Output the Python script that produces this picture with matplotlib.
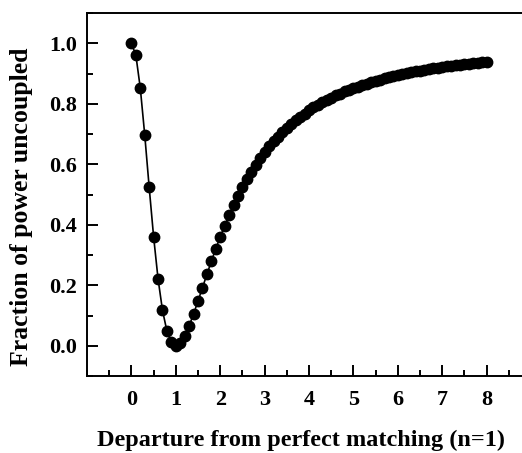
import matplotlib
matplotlib.use("Agg")
import matplotlib.pyplot as plt
from matplotlib.ticker import MultipleLocator

# departure from perfect matching (n=1)
n_values = [
    0.0, 0.1, 0.2, 0.3, 0.4, 0.5, 0.6, 0.7, 0.8, 0.9,
    1.0, 1.1, 1.2, 1.3, 1.4, 1.5, 1.6, 1.7, 1.8, 1.9,
    2.0, 2.1, 2.2, 2.3, 2.4, 2.5, 2.6, 2.7, 2.8, 2.9,
    3.0, 3.1, 3.2, 3.3, 3.4, 3.5, 3.6, 3.7, 3.8, 3.9,
    4.0, 4.1, 4.2, 4.3, 4.4, 4.5, 4.6, 4.7, 4.8, 4.9,
    5.0, 5.1, 5.2, 5.3, 5.4, 5.5, 5.6, 5.7, 5.8, 5.9,
    6.0, 6.1, 6.2, 6.3, 6.4, 6.5, 6.6, 6.7, 6.8, 6.9,
    7.0, 7.1, 7.2, 7.3, 7.4, 7.5, 7.6, 7.7, 7.8, 7.9,
    8.0,
]
# fraction of power uncoupled
uncoupled = [
    1.000, 0.961, 0.852, 0.697, 0.524, 0.360, 0.221, 0.117, 0.048, 0.011,
    0.000, 0.009, 0.033, 0.066, 0.105, 0.148, 0.192, 0.236, 0.279, 0.321,
    0.360, 0.397, 0.432, 0.465, 0.496, 0.524, 0.551, 0.576, 0.599, 0.620,
    0.640, 0.659, 0.676, 0.692, 0.707, 0.721, 0.734, 0.746, 0.758, 0.768,
    0.779, 0.788, 0.797, 0.805, 0.813, 0.821, 0.828, 0.834, 0.841, 0.846,
    0.852, 0.857, 0.862, 0.867, 0.872, 0.876, 0.880, 0.884, 0.888, 0.891,
    0.895, 0.898, 0.901, 0.904, 0.907, 0.910, 0.912, 0.915, 0.917, 0.919,
    0.922, 0.924, 0.926, 0.928, 0.930, 0.931, 0.933, 0.935, 0.936, 0.938,
    0.939,
]

plt.rcParams['font.family'] = ['Liberation Serif', 'DejaVu Serif']
plt.rcParams['font.weight'] = 'bold'

fig = plt.figure(figsize=(5.22, 4.53), dpi=100)
# right spine lies just outside the picture, as in the reference
ax = fig.add_axes([0.1667, 0.170, 0.8506, 0.801])

ax.plot(n_values, uncoupled, color='black', lw=1.2, marker='o', ms=7.5,
        mfc='black', mec='black')

ax.set_xlim(-1, 9)
ax.set_ylim(-0.1, 1.1)
ax.xaxis.set_major_locator(MultipleLocator(1))
ax.xaxis.set_minor_locator(MultipleLocator(0.5))
ax.yaxis.set_major_locator(MultipleLocator(0.2))
ax.yaxis.set_minor_locator(MultipleLocator(0.1))
ax.set_xticks(range(0, 9))
ax.set_yticks([0.0, 0.2, 0.4, 0.6, 0.8, 1.0])
ax.set_yticklabels(['0.0', '0.2', '0.4', '0.6', '0.8', '1.0'])

for s in ax.spines.values():
    s.set_linewidth(1.4)
ax.tick_params(which='both', direction='in', top=False, right=False, width=1.4)
ax.tick_params(which='major', length=8, labelsize=16)
ax.tick_params(which='minor', length=4)
ax.tick_params(axis='x', which='major', pad=10)
ax.tick_params(axis='y', which='major', pad=7)

ax.set_xlabel('Departure from perfect matching (n=1)', fontsize=17.5,
              fontweight='bold')
ax.set_ylabel('Fraction of power uncoupled', fontsize=18.5,
              fontweight='bold')
ax.xaxis.set_label_coords(0.482, -0.148)
ax.yaxis.set_label_coords(-0.122, 0.466)

fig.savefig('out.png', dpi=100)
